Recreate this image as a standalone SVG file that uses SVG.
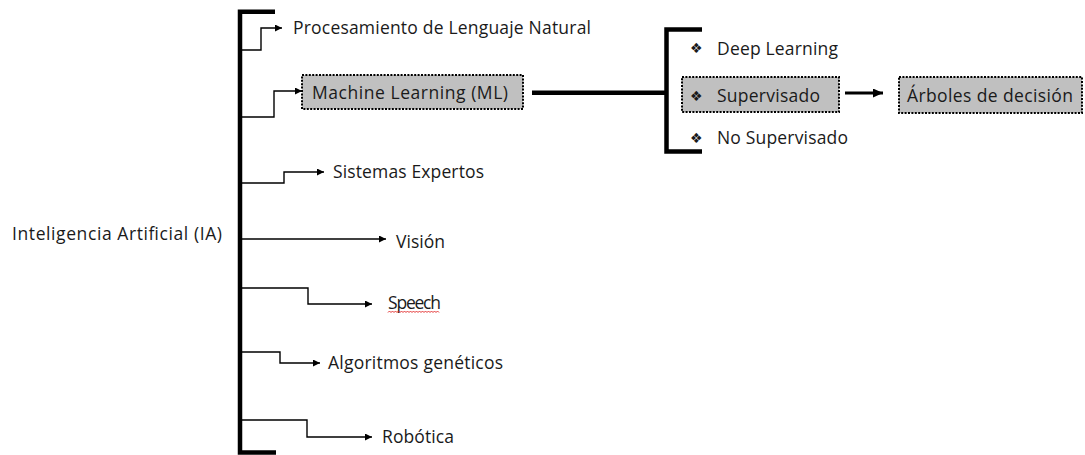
<svg xmlns="http://www.w3.org/2000/svg" width="1085" height="455" viewBox="0 0 1085 455">
  <style>
    .lbl { font-family: "Open Sans", "Noto Sans", "Liberation Sans", sans-serif; font-size: 17.5px; fill: #1a1a1a; }
    .bul { font-family: "DejaVu Sans", sans-serif; font-size: 14px; fill: #1a1a1a; }
    .thin { fill: none; stroke: #000; stroke-width: 1.4; }
    .thick { fill: none; stroke: #000; stroke-width: 4.5; }
    .box { fill: #c0c0c0; stroke: #000; stroke-width: 2; stroke-dasharray: 2 1.4; }
  </style>
  <defs>
    <marker id="tip" markerUnits="userSpaceOnUse" markerWidth="8" markerHeight="8" refX="7" refY="3.5" orient="auto">
      <path d="M0,0 L7,3.5 L0,7 z" fill="#000"/>
    </marker>
    <marker id="tipBig" markerUnits="userSpaceOnUse" markerWidth="12" markerHeight="12" refX="10" refY="4.5" orient="auto">
      <path d="M0,0 L10,4.5 L0,9 z" fill="#000"/>
    </marker>
  </defs>

  <rect width="1085" height="455" fill="#fff"/>

  <!-- connectors -->
  <g id="connectors">
    <!-- main bracket -->
    <path class="thick" d="M275,11.7 H240 V452.5 H276"/>
    <!-- bracket for ML subtypes -->
    <path class="thick" d="M702,29.5 H666.5 V151.5 H702"/>
    <!-- ML to subtype bracket -->
    <path class="thick" d="M532,92.7 H666" stroke-width="4"/>
    <!-- Supervisado to Árboles -->
    <path d="M845,93 H883" fill="none" stroke="#000" stroke-width="3" marker-end="url(#tipBig)"/>
    <!-- branches off the main bracket -->
    <path class="thin" d="M242,50 H261 V28 H282" marker-end="url(#tip)"/>
    <path class="thin" d="M242,117 H274 V91 H302" marker-end="url(#tip)"/>
    <path class="thin" d="M242,183 H284 V172 H324" marker-end="url(#tip)"/>
    <path class="thin" d="M242,239 H386" marker-end="url(#tip)"/>
    <path class="thin" d="M242,288 H308 V304 H372" marker-end="url(#tip)"/>
    <path class="thin" d="M242,352 H280 V363 H320" marker-end="url(#tip)"/>
    <path class="thin" d="M242,420 H307 V437 H372" marker-end="url(#tip)"/>
  </g>

  <g id="ia">
    <text class="lbl" x="12" y="240" textLength="210">Inteligencia Artificial (IA)</text>
  </g>
  <g id="pln">
    <text class="lbl" x="293" y="34" textLength="298">Procesamiento de Lenguaje Natural</text>
  </g>
  <g id="ml">
    <rect class="box" x="302" y="75" width="221" height="34"/>
    <text class="lbl" x="312" y="99" textLength="196">Machine Learning (ML)</text>
  </g>
  <g id="sistemas-expertos">
    <text class="lbl" x="333" y="178" textLength="151">Sistemas Expertos</text>
  </g>
  <g id="vision">
    <text class="lbl" x="396" y="248" textLength="49">Visión</text>
  </g>
  <g id="speech">
    <text class="lbl" x="388" y="309" textLength="53">Speech</text>
    <!-- spell-check squiggle -->
    <path d="M388,312.5 l1.5,-1.5 l1.5,1.5 l1.5,-1.5 l1.5,1.5 l1.5,-1.5 l1.5,1.5 l1.5,-1.5 l1.5,1.5 l1.5,-1.5 l1.5,1.5 l1.5,-1.5 l1.5,1.5 l1.5,-1.5 l1.5,1.5 l1.5,-1.5 l1.5,1.5 l1.5,-1.5 l1.5,1.5 l1.5,-1.5 l1.5,1.5 l1.5,-1.5 l1.5,1.5 l1.5,-1.5 l1.5,1.5 l1.5,-1.5 l1.5,1.5 l1.5,-1.5 l1.5,1.5 l1.5,-1.5 l1.5,1.5 l1.5,-1.5 l1.5,1.5 l1.5,-1.5 l1.5,1.5" fill="none" stroke="#e02020" stroke-width="0.9"/>
  </g>
  <g id="algoritmos-geneticos">
    <text class="lbl" x="328" y="369" textLength="175">Algoritmos genéticos</text>
  </g>
  <g id="robotica">
    <text class="lbl" x="382" y="443" textLength="72">Robótica</text>
  </g>

  <g id="deep-learning">
    <text class="bul" x="690" y="53">❖</text>
    <text class="lbl" x="717" y="55" textLength="121">Deep Learning</text>
  </g>
  <g id="supervisado">
    <rect class="box" x="682" y="77" width="157" height="35"/>
    <text class="bul" x="690" y="101">❖</text>
    <text class="lbl" x="717" y="102" textLength="103">Supervisado</text>
  </g>
  <g id="no-supervisado">
    <text class="bul" x="690" y="142.5">❖</text>
    <text class="lbl" x="717" y="144" textLength="131">No Supervisado</text>
  </g>
  <g id="arboles">
    <rect class="box" x="899" y="77" width="183" height="36"/>
    <text class="lbl" x="907" y="102" textLength="166">Árboles de decisión</text>
  </g>
</svg>
